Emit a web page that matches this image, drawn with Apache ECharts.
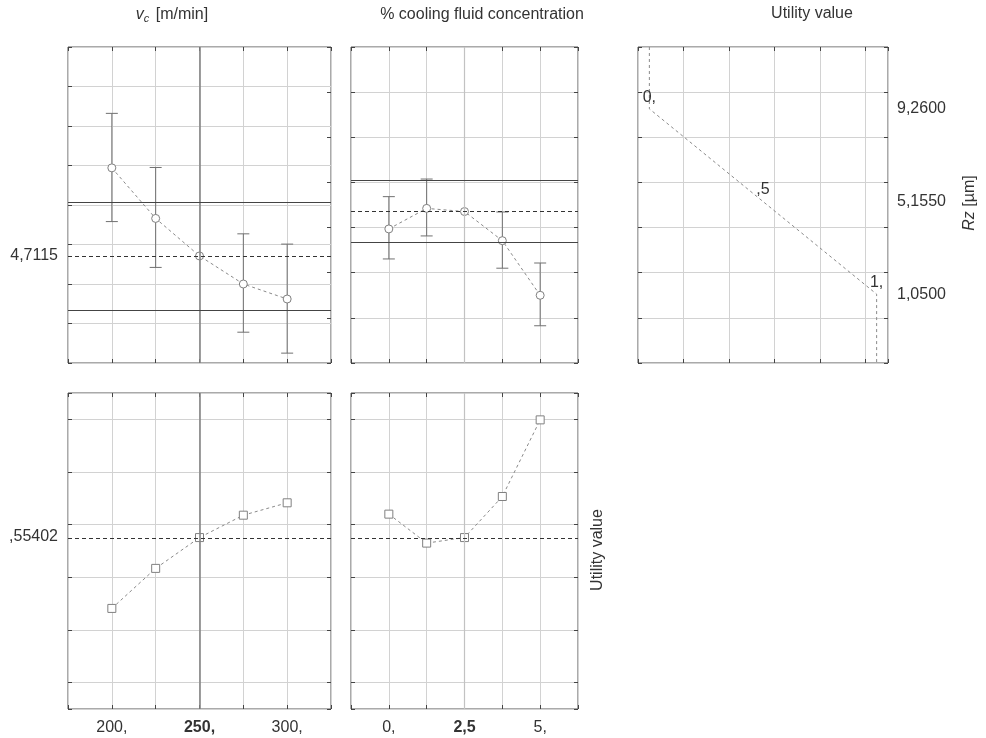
<!DOCTYPE html>
<html><head><meta charset="utf-8">
<script src="https://cdn.jsdelivr.net/npm/echarts@6/dist/echarts.min.js"></script>
<style>html,body{margin:0;padding:0;background:#fff}#c{width:986px;height:738px}</style>
</head><body><div id="c"></div>
<script>
// ---- data ----
const vcLevels = [200, 225, 250, 275, 300];
const concLevels = [0, 1.25, 2.5, 3.75, 5];
const rzVc = [6.94, 5.66, 4.71, 4.00, 3.62];
const rzVcLow = [5.58, 4.42, null, 2.78, 2.25];
const rzVcHigh = [8.32, 6.95, null, 5.27, 5.01];
const rzConc = [3.94, 4.85, 4.71, 3.42, 1.00];
const rzConcLow = [2.61, 3.63, null, 2.20, -0.35];
const rzConcHigh = [5.37, 6.15, null, 4.69, 2.43];
const rzMean = 4.7115;
const rzLimits = [3.34, 6.08];
const utilVc = [0.282, 0.434, 0.551, 0.636, 0.683];
const utilConc = [0.640, 0.530, 0.551, 0.707, 0.998];
const utilMean = 0.55402;
const desirU = [0, 0, 0.5, 1, 1];
const desirRz = [12, 9.26, 5.155, 1.05, -2];
const desirLabels = ['', '0,', ',5', '1,', ''];
const rzTickValues = [9.26, 5.155, 1.05];
const rzTickLabels = ['9,2600', '5,1550', '1,0500'];
const vcTickValues = [200, 250, 300];
const vcTickLabels = ['200,', '250,', '300,'];
const concTickValues = [0, 2.5, 5];
const concTickLabels = ['0,', '2,5', '5,'];
const currentVc = 250;
const currentConc = 2.5;

// ---- styling ----
const FONT = '"Liberation Sans", Arial, sans-serif';
const TXT = '#333';
const GRIDC = '#d2d2d2';
const DARK = '#444';

const grids = [
  {left: 68, top: 47, width: 263, height: 316},
  {left: 351, top: 47, width: 227, height: 316},
  {left: 638, top: 47, width: 250, height: 316},
  {left: 68, top: 393, width: 263, height: 316},
  {left: 351, top: 393, width: 227, height: 316}
].map(g => Object.assign({show: true, borderColor: '#555', borderWidth: 1, backgroundColor: 'transparent'}, g));

function baseAxis(gridIndex, position, scale, split) {
  const a = {
    type: 'value', gridIndex, position,
    min: scale.min, max: scale.max,
    axisLine: {show: false, onZero: false},
    axisLabel: {show: false},
    axisTick: {show: true, inside: true, length: 4, lineStyle: {color: DARK}},
    splitLine: {show: !!split, lineStyle: {color: GRIDC, width: 1}}
  };
  if (scale.interval !== undefined) a.interval = scale.interval;
  if (scale.fixed !== undefined) { a.minInterval = scale.fixed; a.maxInterval = scale.fixed; a.splitNumber = scale.split; }
  return a;
}
const sVc = {min: 175, max: 325, interval: 25};
const sConc = {min: -1.25, max: 6.25, interval: 1.25};
const sU = {min: -0.05, max: 1.05, interval: 0.2};
const sRzL = {min: 2, max: 10, interval: 1};
const sRz = {min: -2, max: 12, interval: 2};
const sUt = {min: -0.1, max: 1.1, fixed: 0.2, split: 6};

function labelCfg(values, labels, boldVal, margin) {
  return {
    show: true, customValues: values, margin,
    fontSize: 16, fontFamily: FONT, color: TXT,
    formatter: v => {
      const i = values.indexOf(v);
      const t = labels[i];
      return (boldVal !== null && v === boldVal) ? '{b|' + t + '}' : t;
    },
    rich: {b: {fontWeight: 'bold', fontSize: 16, fontFamily: FONT, color: TXT}}
  };
}

const xAxis = [
  baseAxis(0, 'bottom', sVc, true),
  baseAxis(1, 'bottom', sConc, true),
  baseAxis(2, 'bottom', sU, true),
  Object.assign(baseAxis(3, 'bottom', sVc, true), {axisLabel: labelCfg(vcTickValues, vcTickLabels, 250, 11)}),
  Object.assign(baseAxis(4, 'bottom', sConc, true), {axisLabel: labelCfg(concTickValues, concTickLabels, 2.5, 11)}),
  baseAxis(0, 'top', sVc, false),
  baseAxis(1, 'top', sConc, false),
  baseAxis(2, 'top', sU, false),
  baseAxis(3, 'top', sVc, false),
  baseAxis(4, 'top', sConc, false)
];
const yAxis = [
  Object.assign(baseAxis(0, 'left', sRzL, true), {axisLabel: labelCfg([rzMean], ['4,7115'], null, 10)}),
  baseAxis(1, 'left', sRz, true),
  baseAxis(2, 'left', sRz, true),
  Object.assign(baseAxis(3, 'left', sUt, true), {axisLabel: labelCfg([utilMean], [',55402'], null, 10)}),
  baseAxis(4, 'left', sUt, true),
  baseAxis(0, 'right', sRz, false),
  baseAxis(1, 'right', sRz, false),
  Object.assign(baseAxis(2, 'right', sRz, false), {axisLabel: labelCfg(rzTickValues, rzTickLabels, null, 9)}),
  baseAxis(3, 'right', sUt, false),
  baseAxis(4, 'right', sUt, false)
];

function zip(a, b) { return a.map((v, i) => [v, b[i]]); }
function zip3(a, b, c) { return a.map((v, i) => [v, b[i], c[i]]).filter(d => d[1] !== null && d[2] !== null); }

function errorSeries(xi, yi, data) {
  return {
    type: 'custom', xAxisIndex: xi, yAxisIndex: yi, data, z: 3,
    encode: {x: 0, y: [1, 2]},
    renderItem: (params, api) => {
      const x = api.value(0), lo = api.value(1), hi = api.value(2);
      const p1 = api.coord([x, hi]), p2 = api.coord([x, lo]);
      const w = 6;
      const st = {stroke: '#707070', lineWidth: 1};
      return {type: 'group', children: [
        {type: 'line', shape: {x1: p1[0], y1: p1[1], x2: p2[0], y2: p2[1]}, style: st},
        {type: 'line', shape: {x1: p1[0] - w, y1: p1[1], x2: p1[0] + w, y2: p1[1]}, style: st},
        {type: 'line', shape: {x1: p2[0] - w, y1: p2[1], x2: p2[0] + w, y2: p2[1]}, style: st}
      ]};
    }
  };
}

const seriesLine = {width: 1, color: '#8a8a8a', type: [3, 3]};
const markerStyle = {color: '#fff', borderColor: '#808080', borderWidth: 1};
function hLine(v, dashed) {
  return {yAxis: v, lineStyle: {color: dashed ? '#333' : DARK, width: 1, type: dashed ? [4, 3] : 'solid'}};
}
function vLine(v, c, w) {
  return {xAxis: v, lineStyle: {color: c, width: w, type: 'solid'}};
}
function markLines(items) {
  return {silent: true, symbol: ['none', 'none'], label: {show: false}, animation: false, data: items};
}

const series = [
  {
    type: 'line', xAxisIndex: 0, yAxisIndex: 0, data: zip(vcLevels, rzVc), z: 4,
    symbol: 'circle', symbolSize: 8, itemStyle: markerStyle,
    lineStyle: seriesLine,
    markLine: markLines([vLine(currentVc, '#858585', 1.6), hLine(rzLimits[0], false), hLine(rzLimits[1], false), hLine(rzMean, true)])
  },
  errorSeries(0, 0, zip3(vcLevels, rzVcLow, rzVcHigh)),
  {
    type: 'line', xAxisIndex: 1, yAxisIndex: 1, data: zip(concLevels, rzConc), z: 4,
    symbol: 'circle', symbolSize: 8, itemStyle: markerStyle,
    lineStyle: seriesLine,
    markLine: markLines([vLine(currentConc, '#c2c2c2', 1.2), hLine(rzLimits[0], false), hLine(rzLimits[1], false), hLine(rzMean, true)])
  },
  errorSeries(1, 1, zip3(concLevels, rzConcLow, rzConcHigh)),
  {
    type: 'line', xAxisIndex: 2, yAxisIndex: 2, data: zip(desirU, desirRz), z: 4,
    symbol: 'circle', symbolSize: 1, itemStyle: {color: 'rgba(0,0,0,0)'},
    lineStyle: seriesLine,
    label: {
      show: true, position: 'top', distance: 3, fontSize: 16, fontFamily: FONT, color: TXT,
      formatter: p => desirLabels[p.dataIndex]
    }
  },
  {
    type: 'line', xAxisIndex: 3, yAxisIndex: 3, data: zip(vcLevels, utilVc), z: 4,
    symbol: 'rect', symbolSize: 8, itemStyle: markerStyle,
    lineStyle: seriesLine,
    markLine: markLines([vLine(currentVc, '#858585', 1.6), hLine(utilMean, true)])
  },
  {
    type: 'line', xAxisIndex: 4, yAxisIndex: 4, data: zip(concLevels, utilConc), z: 4,
    symbol: 'rect', symbolSize: 8, itemStyle: markerStyle,
    lineStyle: seriesLine,
    markLine: markLines([vLine(currentConc, '#c2c2c2', 1.2), hLine(utilMean, true)])
  }
];

function txt(x, y, text, extra) {
  return Object.assign({
    type: 'text', x, y, silent: true,
    style: Object.assign({text, fill: TXT, fontSize: 16, fontFamily: FONT, align: 'center', verticalAlign: 'middle'}, extra && extra.style || {})
  }, extra && extra.el || {});
}

const graphic = [
  txt(172, 15, '{i|v}{s|c} [m/min]', {style: {rich: {
    i: {fontStyle: 'italic', fontSize: 16, fontFamily: FONT, fill: TXT},
    s: {fontStyle: 'italic', fontSize: 11, fontFamily: FONT, fill: TXT, padding: [8, 2, 0, 0]}
  }}}),
  txt(482, 15, '% cooling fluid concentration'),
  txt(812, 14, 'Utility value'),
  txt(970, 203, '{i|Rz} [µm]', {el: {rotation: Math.PI / 2}, style: {rich: {
    i: {fontStyle: 'italic', fontSize: 16, fontFamily: FONT, fill: TXT}
  }}}),
  txt(598, 550, 'Utility value', {el: {rotation: Math.PI / 2}})
];

const chart = echarts.init(document.getElementById('c'), null, {renderer: 'canvas'});
chart.setOption({
  animation: false,
  backgroundColor: '#fff',
  textStyle: {fontFamily: FONT},
  grid: grids, xAxis, yAxis, series, graphic
});
</script></body></html>
